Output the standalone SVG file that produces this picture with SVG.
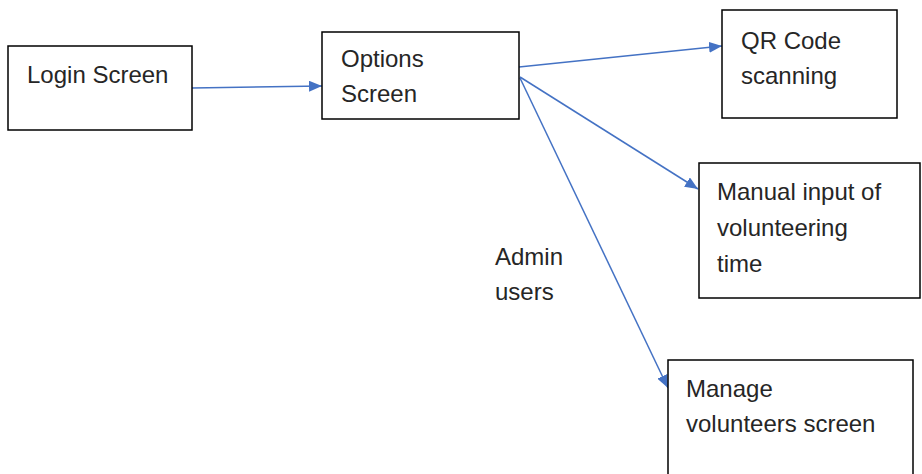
<svg xmlns="http://www.w3.org/2000/svg" width="922" height="474" viewBox="0 0 922 474">
<style>
.box{fill:#fff;stroke:#000;stroke-width:1.5}
.t{font-family:"Liberation Sans",Arial,sans-serif;font-size:24px;fill:#262626}
.c{stroke:#4472C4;stroke-width:1.5;fill:none}
</style>
<defs>
<marker id="ah" viewBox="0 0 13 11" refX="13" refY="5.5" markerWidth="13" markerHeight="11" markerUnits="userSpaceOnUse" orient="auto">
<path d="M0,0 L13,5.5 L0,11 Z" fill="#4472C4"/>
</marker>
</defs>
<rect width="922" height="474" fill="#fff"/>
<g id="connectors">
<line class="c" x1="192" y1="88" x2="322" y2="86" marker-end="url(#ah)"/>
<line class="c" x1="519" y1="67" x2="722" y2="46" marker-end="url(#ah)"/>
<line class="c" x1="520" y1="77" x2="698" y2="189" marker-end="url(#ah)"/>
<line class="c" x1="520" y1="78" x2="668" y2="388" marker-end="url(#ah)"/>
</g>
<g id="login">
<rect class="box" x="8" y="46" width="184" height="84"/>
<text class="t" x="27" y="83">Login Screen</text>
</g>
<g id="options">
<rect class="box" x="322" y="32" width="197" height="87"/>
<text class="t" x="341" y="67">Options</text>
<text class="t" x="341" y="102">Screen</text>
</g>
<g id="qr">
<rect class="box" x="722" y="10" width="175" height="108"/>
<text class="t" x="741" y="49">QR Code</text>
<text class="t" x="741" y="84">scanning</text>
</g>
<g id="manual">
<rect class="box" x="699" y="163" width="221" height="135"/>
<text class="t" x="717" y="200">Manual input of</text>
<text class="t" x="717" y="236">volunteering</text>
<text class="t" x="717" y="272">time</text>
</g>
<g id="manage">
<rect class="box" x="668" y="360" width="245" height="120"/>
<text class="t" x="686" y="397">Manage</text>
<text class="t" x="686" y="432">volunteers screen</text>
</g>
<g id="label-admin">
<text class="t" x="495" y="265">Admin</text>
<text class="t" x="495" y="300">users</text>
</g>
</svg>
